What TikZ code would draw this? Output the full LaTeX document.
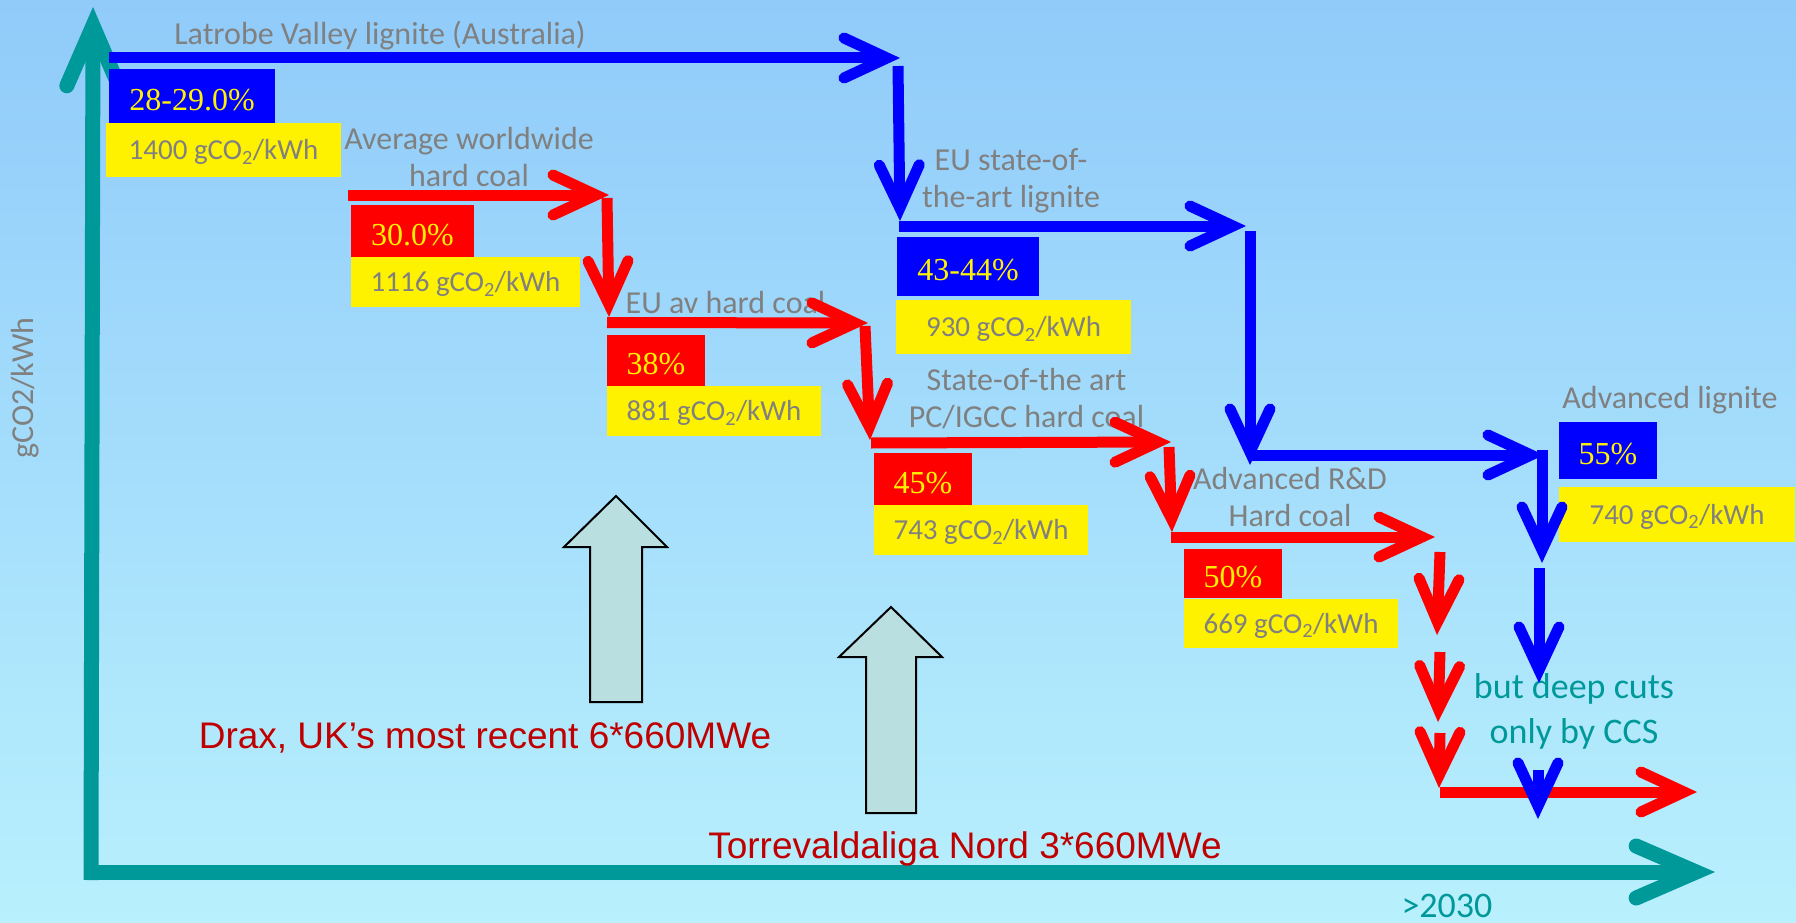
\documentclass[tikz,border=0pt]{standalone}
\usepackage{fontspec}
\setmainfont{Carlito}
\newfontfamily\timesf{Liberation Serif}
\newfontfamily\arialf{Liberation Sans}
\usetikzlibrary{arrows.meta}
\definecolor{bgtop}{RGB}{144,203,250}
\definecolor{bgbot}{RGB}{185,240,253}
\definecolor{axisteal}{RGB}{0,153,153}
\definecolor{labgray}{RGB}{128,128,128}
\definecolor{darkred}{RGB}{192,0,0}
\definecolor{arrowfill}{RGB}{185,223,225}
\begin{document}
\begin{tikzpicture}[x=1pt,y=-1pt,
  lab/.style={text=labgray, font=\fontsize{32}{37}\selectfont, inner sep=0pt, anchor=base, align=center},
  ccslab/.style={text=axisteal, font=\fontsize{36}{45}\selectfont, inner sep=0pt, anchor=base, align=center},
  plant/.style={text=darkred, font=\arialf\fontsize{37}{44}\selectfont, inner sep=0pt, anchor=base},
  pct/.style={text=yellow, font=\timesf\fontsize{32}{38}\selectfont, inner sep=0pt, text height=28.6pt, text depth=0pt},
  bluebox/.style={pct, fill=blue},
  redbox/.style={pct, fill=red},
  gbox/.style={fill=yellow, text=labgray, font=\fontsize{29}{34}\selectfont, inner sep=0pt, text height=19.5pt, text depth=0pt},
  flow/.style={line width=11pt, -{Straight Barb[length=43pt,width=40pt,line cap=round,line join=miter]}},
  bflow/.style={flow, draw=blue},
  rflow/.style={flow, draw=red},
  axis/.style={draw=axisteal, line width=15pt, -{Straight Barb[length=60pt,width=52pt,line cap=round,line join=miter]}},
  bigup/.style={draw=black, line width=2pt, fill=arrowfill, line join=miter},
]
\useasboundingbox (0,0) rectangle (1796,923);
\shade[top color=bgtop, bottom color=bgbot] (0,0) rectangle (1796,923);

% axes
\coordinate (origin) at (91,880);
\coordinate (ytip) at (93,7);
\coordinate (xstart) at (84,872);
\coordinate (xtip) at (1715,872);
\draw[axis] (origin) -- (ytip);
\draw[axis] (xstart) -- (xtip);
\node[lab, rotate=90] (ylab) at (33,388) {gCO2/kWh};
\node[ccslab] (year) at (1447,917) {>2030};

% labels (multi-line nodes: base = last line)
\node[lab] (l1) at (380,45) {Latrobe Valley lignite (Australia)};
\node[lab] (l2) at (469,186) {Average worldwide\\hard coal};
\node[lab] (l3) at (725.5,313) {EU av hard coal};
\node[lab] (l4) at (1011,207) {EU state-of-\\the-art lignite};
\node[lab] (l5) at (1026.5,427) {State-of-the art\\PC/IGCC hard coal};
\node[lab] (l6) at (1290,526) {Advanced R\&D\\Hard coal};
\node[lab] (l7) at (1670,408) {Advanced lignite};
\node[ccslab] (ccs) at (1574,743) {but deep cuts\\only by CCS};
\node[plant] (drax) at (485,748) {Drax, UK’s most recent 6*660MWe};
\node[plant] (torre) at (965,858.5) {Torrevaldaliga Nord 3*660MWe};

% boxes
\node[bluebox, minimum width=166pt, minimum height=54pt] (p1) at (192,96) {28-29.0\%};
\node[gbox, minimum width=235pt, minimum height=54pt] (g1) at (223.5,150) {1400 gCO\textsubscript{2}/kWh};
\node[redbox, minimum width=123pt, minimum height=52pt] (p2) at (412.5,231) {30.0\%};
\node[gbox, minimum width=229pt, minimum height=50pt] (g2) at (465.5,282) {1116 gCO\textsubscript{2}/kWh};
\node[redbox, minimum width=98pt, minimum height=51pt] (p3) at (656,360.5) {38\%};
\node[gbox, minimum width=214pt, minimum height=50pt] (g3) at (714,411) {881 gCO\textsubscript{2}/kWh};
\node[bluebox, minimum width=142pt, minimum height=59pt] (p4) at (968,266.5) {43-44\%};
\node[gbox, minimum width=235pt, minimum height=54pt] (g4) at (1013.5,327) {930 gCO\textsubscript{2}/kWh};
\node[redbox, minimum width=98pt, minimum height=52pt] (p5) at (923,479) {45\%};
\node[gbox, minimum width=214pt, minimum height=50pt] (g5) at (981,530) {743 gCO\textsubscript{2}/kWh};
\node[redbox, minimum width=98pt, minimum height=49pt] (p6) at (1233,573.5) {50\%};
\node[gbox, minimum width=214pt, minimum height=49pt] (g6) at (1291,623.5) {669 gCO\textsubscript{2}/kWh};
\node[bluebox, minimum width=98pt, minimum height=57pt] (p7) at (1608,450.5) {55\%};
\node[gbox, minimum width=236pt, minimum height=55pt] (g7) at (1677,514.5) {740 gCO\textsubscript{2}/kWh};

% big up arrows
\draw[bigup] (590,702) -- (590,547) -- (564,547) -- (616,496) -- (667,547) -- (642,547) -- (642,702) -- cycle;
\draw[bigup] (866,813) -- (866,657) -- (839,657) -- (891,607) -- (942,657) -- (916,657) -- (916,813) -- cycle;

% blue path (lignite)
\coordinate (b0) at (109,58);
\coordinate (b1) at (900,58);
\coordinate (b1s) at (898,66);
\coordinate (b2) at (900,221);
\coordinate (b2s) at (899,226);
\coordinate (b3) at (1246,226);
\coordinate (b3s) at (1250,231);
\coordinate (b4) at (1250,465);
\coordinate (b4s) at (1251,455);
\coordinate (b5) at (1544,455);
\coordinate (b5s) at (1542,450);
\coordinate (b6) at (1542,563);
\coordinate (b6s) at (1539,568);
\coordinate (b7) at (1539,683);
\coordinate (b7s) at (1538,770);
\coordinate (b8) at (1538,819);
\draw[bflow] (b0) -- (b1);
\draw[bflow] (b1s) -- (b2);
\draw[bflow] (b2s) -- (b3);
\draw[bflow] (b3s) -- (b4);
\draw[bflow] (b4s) -- (b5);
\draw[bflow] (b5s) -- (b6);
\draw[bflow] (b6s) -- (b7);

% red path (hard coal)
\coordinate (r0) at (348,195);
\coordinate (r1) at (609,195);
\coordinate (r1s) at (607,198);
\coordinate (r2) at (609,317);
\coordinate (r2s) at (607,322.5);
\coordinate (r3) at (868,323);
\coordinate (r3s) at (865,326);
\coordinate (r4) at (870,440);
\coordinate (r4s) at (871,443);
\coordinate (r5) at (1171,442);
\coordinate (r5s) at (1169,447);
\coordinate (r6) at (1172,532);
\coordinate (r6s) at (1171,537);
\coordinate (r7) at (1435,537);
\coordinate (r7s) at (1440,552);
\coordinate (r8) at (1437,635);
\coordinate (r8s) at (1440,652);
\coordinate (r9) at (1438,722);
\coordinate (r9s) at (1440,733);
\coordinate (r10) at (1439,788);
\coordinate (r10s) at (1440,792);
\coordinate (r11) at (1697,792);
\draw[rflow] (r0) -- (r1);
\draw[rflow] (r1s) -- (r2);
\draw[rflow] (r2s) -- (r3);
\draw[rflow] (r3s) -- (r4);
\draw[rflow] (r4s) -- (r5);
\draw[rflow] (r5s) -- (r6);
\draw[rflow] (r6s) -- (r7);
\draw[rflow] (r7s) -- (r8);
\draw[rflow] (r8s) -- (r9);
\draw[rflow] (r9s) -- (r10);
\draw[rflow] (r10s) -- (r11);
\draw[bflow] (b7s) -- (b8);
\end{tikzpicture}
\end{document}
